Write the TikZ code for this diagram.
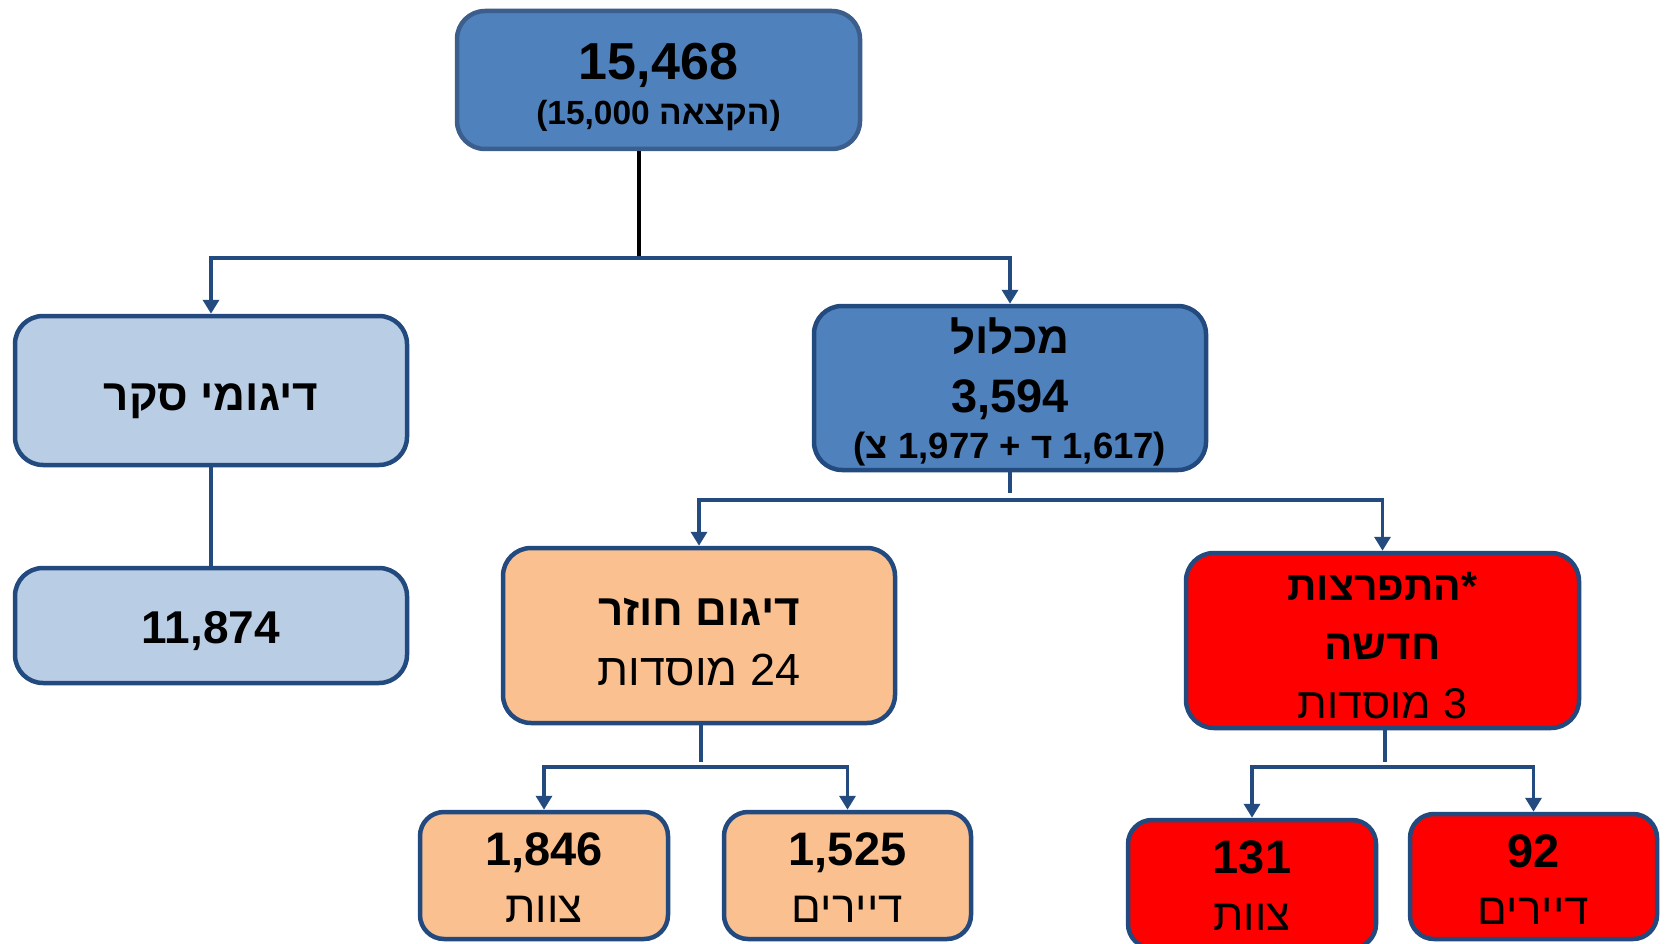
\documentclass[tikz,border=0pt]{standalone}
\usepackage{fontspec}
\setmainfont{Liberation Sans}
\newfontfamily\hebfont[Script=Hebrew]{Liberation Sans}
\TeXXeTstate=1
\usetikzlibrary{arrows.meta}
\newcommand\heb[1]{{\hebfont\beginR #1\endR}}
\newcommand\fsz[1]{\fontsize{#1}{#1}\selectfont}
\definecolor{boxline}{HTML}{224A7E}
\definecolor{topline}{HTML}{3C5E8C}
\definecolor{midblue}{HTML}{4F81BD}
\definecolor{lightblue}{HTML}{B9CDE5}
\definecolor{peach}{HTML}{FAC090}
\definecolor{connblue}{HTML}{234B7F}
\tikzset{
  box/.style={draw=boxline, line width=4.5pt, rounded corners=28pt, inner sep=0pt},
  smallbox/.style={box, rounded corners=24pt},
  txt/.style={inner sep=0pt, anchor=base},
  conn/.style={draw=connblue, line width=3.8pt},
  arr/.style={conn, -{Triangle[width=16pt,length=14pt]}},
}
\begin{document}
\begin{tikzpicture}[x=1pt,y=-1pt]
\useasboundingbox (0,0) rectangle (1665,944);
% boxes
\node[box, draw=topline, fill=midblue, minimum width=403pt, minimum height=138pt] (top) at (658.5,80) {};
\node[box, fill=lightblue, minimum width=392pt, minimum height=149pt] (survey) at (211,390.5) {};
\node[box, fill=lightblue, minimum width=392pt, minimum height=115pt] (surveyn) at (211,625.5) {};
\node[box, fill=midblue, minimum width=392pt, minimum height=164pt] (mik) at (1010,388) {};
\node[box, fill=peach, minimum width=392pt, minimum height=175pt] (hozer) at (699,635.5) {};
\node[box, fill=red, minimum width=393pt, minimum height=175pt] (hitp) at (1382.5,640.5) {};
\node[smallbox, fill=peach, minimum width=248pt, minimum height=127pt] (hzstaff) at (544,875.5) {};
\node[smallbox, fill=peach, minimum width=247pt, minimum height=127pt] (hzres) at (847.5,875.5) {};
\node[smallbox, fill=red, minimum width=248pt, minimum height=128pt] (hpstaff) at (1252,884) {};
\node[smallbox, fill=red, minimum width=247pt, minimum height=125pt] (hpres) at (1533.5,876.5) {};
% texts
\node[txt, font=\bfseries\fsz{52}] (t1) at (658.5,80) {15,468};
\node[txt, font=\bfseries\fsz{33.5}] (t2) at (658.5,125) {(15,000 \heb{הקצאה})};
\node[txt, font=\bfseries\fsz{44}] (t3) at (211,410) {\heb{דיגומי סקר}};
\node[txt, font=\bfseries\fsz{46}] (t4) at (211,643) {11,874};
\node[txt, font=\bfseries\fsz{44}] (t5) at (1010,353) {\heb{מכלול}};
\node[txt, font=\bfseries\fsz{47}] (t6) at (1010,412) {3,594};
\node[txt, font=\bfseries\fsz{36.5}] (t7) at (1010,458) {(\heb{צ} 1,977 + \heb{ד} 1,617)};
\node[txt, font=\bfseries\fsz{44}] (t8) at (699,625) {\heb{דיגום חוזר}};
\node[txt, font=\fsz{45}] (t9) at (699,685) {\heb{מוסדות} 24};
\node[txt, font=\bfseries\fsz{41}] (t10) at (1382.5,600) {\heb{התפרצות}*};
\node[txt, font=\bfseries\fsz{42}] (t11) at (1382.5,659) {\heb{חדשה}};
\node[txt, font=\fsz{43}] (t12) at (1382.5,718) {\heb{מוסדות} 3};
\node[txt, font=\bfseries\fsz{47}] (t13) at (544,865) {1,846};
\node[txt, font=\fsz{44}] (t14) at (544,922) {\heb{צוות}};
\node[txt, font=\bfseries\fsz{47}] (t15) at (847.5,865) {1,525};
\node[txt, font=\fsz{44}] (t16) at (847.5,922) {\heb{דיירים}};
\node[txt, font=\bfseries\fsz{47}] (t17) at (1252,873) {131};
\node[txt, font=\fsz{44}] (t18) at (1252,930) {\heb{צוות}};
\node[txt, font=\bfseries\fsz{47}] (t19) at (1533.5,867) {92};
\node[txt, font=\fsz{44}] (t20) at (1533.5,924) {\heb{דיירים}};
% junctions
\coordinate (j0) at (639,258);
\coordinate (j1) at (1010,500);
\coordinate (j2) at (701,767);
\coordinate (j3) at (1385,767);
% connectors
\draw[line width=4pt, black] (top.south -| j0) -- ([yshift=-2pt]j0);
\draw[arr] (j0) -| (survey.north);
\draw[arr] (j0) -| (mik.north);
\draw[conn] (survey.south) -- (surveyn.north);
\draw[conn] (mik.south) -- ([yshift=7pt]j1);
\draw[arr] (j1) -| (hozer.north);
\draw[arr] (j1) -| (hitp.north);
\draw[conn] (hozer.south -| j2) -- ([yshift=5pt]j2);
\draw[arr] (j2) -| (hzstaff.north);
\draw[arr] (j2) -| (hzres.north);
\draw[conn] (hitp.south -| j3) -- ([yshift=5pt]j3);
\draw[arr] (j3) -| (hpstaff.north);
\draw[arr] (j3) -| (hpres.north);
\end{tikzpicture}
\end{document}
